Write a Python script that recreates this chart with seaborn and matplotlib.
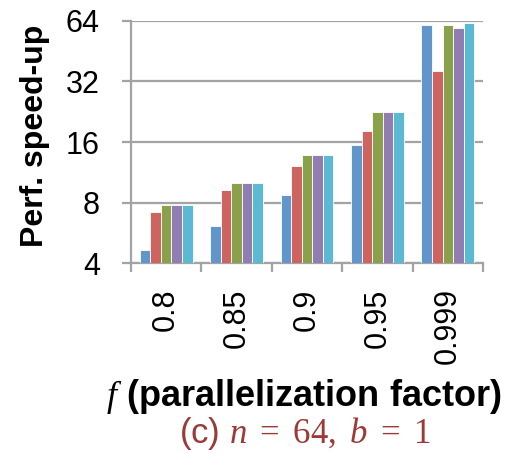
import matplotlib
matplotlib.use("Agg")
import matplotlib.pyplot as plt
import numpy as np
import pandas as pd
import seaborn as sns

# Parallelization factors on the x axis
factors = ["0.8", "0.85", "0.9", "0.95", "0.999"]

# Performance speed-up of each design for every factor
speedup_a = [4.66, 6.1, 8.7, 15.4, 60.6]
speedup_b = [7.2, 9.2, 12.1, 18.2, 36.1]
speedup_c = [7.8, 10.0, 13.8, 22.6, 60.6]
speedup_d = [7.8, 10.0, 13.8, 22.6, 58.8]
speedup_e = [7.8, 10.0, 13.8, 22.6, 62.2]

series_names = ["A", "B", "C", "D", "E"]
colors = ["#6196CB", "#CD645F", "#8BA04A", "#927DB2", "#5BB9D3"]

y_ticks = [4, 8, 16, 32, 64]

rows = []
for name, vals in zip(series_names,
                      [speedup_a, speedup_b, speedup_c, speedup_d, speedup_e]):
    for f, v in zip(factors, vals):
        rows.append({"f": f, "design": name, "speedup": v})
df = pd.DataFrame(rows)

sns.set_style("white")
plt.rcParams["font.family"] = ["Liberation Sans", "DejaVu Sans"]
plt.rcParams["mathtext.fontset"] = "custom"
plt.rcParams["mathtext.rm"] = "Liberation Serif"
plt.rcParams["mathtext.it"] = "Liberation Serif:italic"
plt.rcParams["mathtext.bf"] = "Liberation Serif:bold"
plt.rcParams["text.color"] = "black"
plt.rcParams["xtick.labelcolor"] = "black"
plt.rcParams["ytick.labelcolor"] = "black"

grey = "#A3A3A3"

fig = plt.figure(figsize=(5.06, 4.54), dpi=100)
ax = fig.add_axes([131 / 506, 1 - 263.3 / 454, (483 - 131) / 506, (263.3 - 20.7) / 454])

sns.barplot(data=df, x="f", y="speedup", hue="design", palette=colors,
            order=factors, hue_order=series_names, width=0.75,
            legend=False, ax=ax, saturation=1,
            edgecolor="white", linewidth=0.6, zorder=3)

ax.set_yscale("log", base=2, nonpositive="clip")
ax.set_ylim(4, 64)
ax.set_xlim(-0.5, len(factors) - 0.5)
ax.set_yticks(y_ticks)
ax.set_yticklabels([str(t) for t in y_ticks])
ax.yaxis.set_minor_locator(matplotlib.ticker.NullLocator())

ax.grid(axis="y", color=grey, linewidth=1.6, zorder=0)
ax.set_axisbelow(True)
for side in ["top", "right"]:
    ax.spines[side].set_visible(False)
for side in ["left", "bottom"]:
    ax.spines[side].set_color(grey)
    ax.spines[side].set_linewidth(1.6)

ax.tick_params(axis="y", which="major", direction="out", length=6.5,
               width=1.6, color=grey, labelsize=22, pad=16, left=True,
               labelcolor="black")
ax.set_xticks(np.arange(len(factors)))
ax.set_xticklabels(factors, rotation=90)
ax.tick_params(axis="x", which="major", length=0, labelsize=22, pad=18,
               labelcolor="black")
ax.set_xticks(np.arange(len(factors) + 1) - 0.5, minor=True)
ax.tick_params(axis="x", which="minor", direction="out", length=6.5,
               width=1.6, color=grey, bottom=True)

ax.set_xlabel("")
ax.set_ylabel("")

fig.text(35 / 506, 0.70, "Perf. speed-up", rotation=90, ha="center",
         va="center", fontsize=23, fontweight="bold", color="black")
fig.text(0.600, 1 - 397 / 454, r"$f$ (parallelization factor)", ha="center",
         va="center", fontsize=26, fontweight="bold", color="black")
fig.text(0.602, 1 - 433 / 454, r"(c) $n\ =\ 64,\ b\ =\ 1$", ha="center",
         va="center", fontsize=25, color="#9B3A36")

fig.savefig("out.png", dpi=100)
